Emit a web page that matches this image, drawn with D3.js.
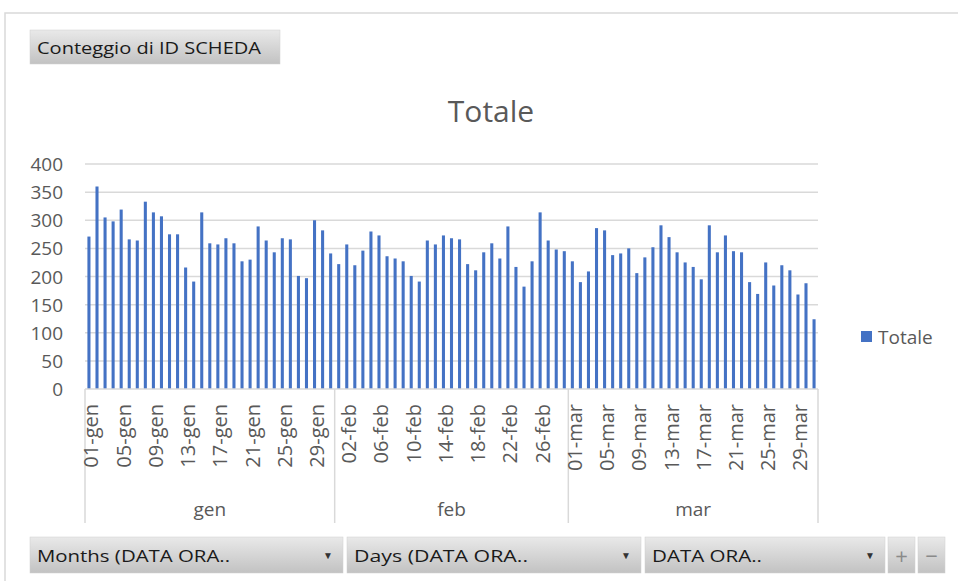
<!DOCTYPE html>
<html>
<head>
<meta charset="utf-8">
<script src="https://cdn.jsdelivr.net/npm/d3@7"></script>
<style>
    body { margin: 0; background: #fff; }
    svg text { font-family: "Open Sans", "Noto Sans", sans-serif; }
</style>
</head>
<body>
<div id="chart"></div>
<script>
// months of the pivot (first level of the category axis)
const months = ['gen', 'feb', 'mar'];
const daysInMonth = [31, 29, 31];

// Conteggio di ID SCHEDA per day
const valuesGen = [271, 360, 305, 298, 319, 266, 264, 333, 314, 307, 275, 275, 216, 191, 314, 259,
    257, 268, 259, 227, 230, 289, 264, 243, 268, 266, 201, 197, 300, 282, 241];
const valuesFeb = [222, 257, 220, 246, 280, 273, 236, 232, 227, 201, 191, 264, 257, 273, 268, 266,
    222, 211, 243, 259, 232, 289, 217, 182, 227, 314, 264, 248, 245];
const valuesMar = [227, 190, 209, 286, 282, 238, 241, 250, 206, 234, 252, 291, 270, 243, 225, 217,
    195, 291, 243, 273, 245, 243, 190, 169, 225, 184, 220, 211, 168, 188, 124];

const yTicks = [0, 50, 100, 150, 200, 250, 300, 350, 400];
const seriesName = 'Totale';
const barColor = '#4472C4';
const textColor = '#595959';
const gridColor = '#d9d9d9';

const width = 958, height = 581;
const plot = { left: 85, right: 818, top: 164, bottom: 389 };

// flatten into one row per day
const rows = [];
[valuesGen, valuesFeb, valuesMar].forEach((vals, m) => {
    vals.forEach((v, d) => {
        rows.push({ month: months[m], day: String(d + 1).padStart(2, '0'), value: v });
    });
});
rows.forEach((r, i) => { r.i = i; r.label = `${r.day}-${r.month}`; });

const svg = d3.select('#chart').append('svg')
    .attr('width', width)
    .attr('height', height);

const defs = svg.append('defs');
const grad = defs.append('linearGradient')
    .attr('id', 'btnGrad')
    .attr('x1', 0).attr('y1', 0).attr('x2', 0).attr('y2', 1);
grad.append('stop').attr('offset', '0%').attr('stop-color', '#e9e9e9');
grad.append('stop').attr('offset', '100%').attr('stop-color', '#c2c2c2');

// chart area border (top and left edge visible)
svg.append('path')
    .attr('d', `M5,${height} L5,13 L${width},13`)
    .attr('fill', 'none')
    .attr('stroke', '#d9d9d9')
    .attr('stroke-width', 1.5);

// value field button
function fieldButton(x, y, w, h, label, textW, arrow) {
    const g = svg.append('g').attr('transform', `translate(${x},${y})`);
    g.append('rect')
        .attr('width', w).attr('height', h)
        .attr('fill', 'url(#btnGrad)')
        .attr('stroke', '#d0d0d0')
        .attr('stroke-width', 0.5);
    if (label) {
        g.append('text')
            .attr('x', 7).attr('y', h / 2)
            .attr('dominant-baseline', 'central')
            .attr('font-size', 17)
            .attr('textLength', textW)
            .attr('lengthAdjust', 'spacingAndGlyphs')
            .attr('fill', '#1a1a1a')
            .text(label);
    }
    if (arrow) {
        g.append('text')
            .attr('x', w - 15).attr('y', h / 2)
            .attr('dominant-baseline', 'central')
            .attr('text-anchor', 'middle')
            .attr('font-size', 10)
            .attr('fill', '#333')
            .text('\u25BC');
    }
    return g;
}

fieldButton(30, 30, 250, 34, 'Conteggio di ID SCHEDA', 224, false);

// title
svg.append('text')
    .attr('x', 491).attr('y', 110)
    .attr('text-anchor', 'middle')
    .attr('dominant-baseline', 'central')
    .attr('font-size', 30)
    .attr('fill', textColor)
    .text(seriesName);

const x = d3.scaleBand()
    .domain(rows.map(d => d.i))
    .range([plot.left, plot.right])
    .paddingInner(0.62)
    .paddingOuter(0.3);

const y = d3.scaleLinear()
    .domain([0, 400])
    .range([plot.bottom, plot.top]);

// gridlines
svg.append('g')
    .selectAll('line')
    .data(yTicks.filter(t => t > 0))
    .join('line')
    .attr('x1', plot.left).attr('x2', plot.right)
    .attr('y1', d => y(d)).attr('y2', d => y(d))
    .attr('stroke', gridColor)
    .attr('stroke-width', 1.5);

// y labels
svg.append('g')
    .selectAll('text')
    .data(yTicks)
    .join('text')
    .attr('x', 63)
    .attr('y', d => y(d))
    .attr('text-anchor', 'end')
    .attr('dominant-baseline', 'central')
    .attr('font-size', 19)
    .attr('fill', textColor)
    .text(d => d);

// bars
svg.append('g')
    .selectAll('rect')
    .data(rows)
    .join('rect')
    .attr('x', d => x(d.i))
    .attr('y', d => y(d.value))
    .attr('width', x.bandwidth())
    .attr('height', d => y(0) - y(d.value))
    .attr('fill', barColor);

// category axis: baseline + month separators
svg.append('line')
    .attr('x1', plot.left).attr('x2', plot.right)
    .attr('y1', plot.bottom).attr('y2', plot.bottom)
    .attr('stroke', gridColor)
    .attr('stroke-width', 1.5);

const groups = [];
let start = 0;
months.forEach((m, k) => {
    const first = start, last = start + daysInMonth[k] - 1;
    groups.push({
        month: m,
        x0: k === 0 ? plot.left : x(first) - x.step() * x.paddingInner() / 2,
        x1: k === months.length - 1 ? plot.right : x(last) + x.bandwidth() + x.step() * x.paddingInner() / 2
    });
    start += daysInMonth[k];
});

const seps = [plot.left].concat(groups.map(g => g.x1));
svg.append('g')
    .selectAll('line')
    .data(seps)
    .join('line')
    .attr('x1', d => d).attr('x2', d => d)
    .attr('y1', plot.bottom).attr('y2', 523)
    .attr('stroke', gridColor)
    .attr('stroke-width', 1.5);

// day labels, every 4th category
svg.append('g')
    .selectAll('text')
    .data(rows.filter(d => d.i % 4 === 0))
    .join('text')
    .attr('transform', d => `translate(${x(d.i) + x.bandwidth() / 2 + 2},404) rotate(-90)`)
    .attr('text-anchor', 'end')
    .attr('dominant-baseline', 'central')
    .attr('font-size', 20)
    .attr('fill', textColor)
    .text(d => d.label);

// month labels
svg.append('g')
    .selectAll('text')
    .data(groups)
    .join('text')
    .attr('x', d => (d.x0 + d.x1) / 2)
    .attr('y', 509)
    .attr('text-anchor', 'middle')
    .attr('dominant-baseline', 'central')
    .attr('font-size', 19)
    .attr('fill', textColor)
    .text(d => d.month);

// legend
const legend = svg.append('g').attr('transform', 'translate(861,331)');
legend.append('rect')
    .attr('width', 11).attr('height', 11)
    .attr('fill', barColor);
legend.append('text')
    .attr('x', 17).attr('y', 6)
    .attr('dominant-baseline', 'central')
    .attr('font-size', 19)
    .attr('fill', textColor)
    .text(seriesName);

// axis field buttons at the bottom
fieldButton(30, 537, 313, 36, 'Months (DATA ORA..', 193, true);
fieldButton(347, 537, 294, 36, 'Days (DATA ORA..', 174, true);
fieldButton(645, 537, 240, 36, 'DATA ORA..', 110, true);
[['+', 888], ['\u2212', 918]].forEach(([s, bx]) => {
    const g = fieldButton(bx, 537, 27, 36, null, 0, false);
    g.append('text')
        .attr('x', 13.5).attr('y', 18)
        .attr('text-anchor', 'middle')
        .attr('dominant-baseline', 'central')
        .attr('font-size', 22)
        .attr('fill', '#8a8a8a')
        .text(s);
});
</script>
</body>
</html>
